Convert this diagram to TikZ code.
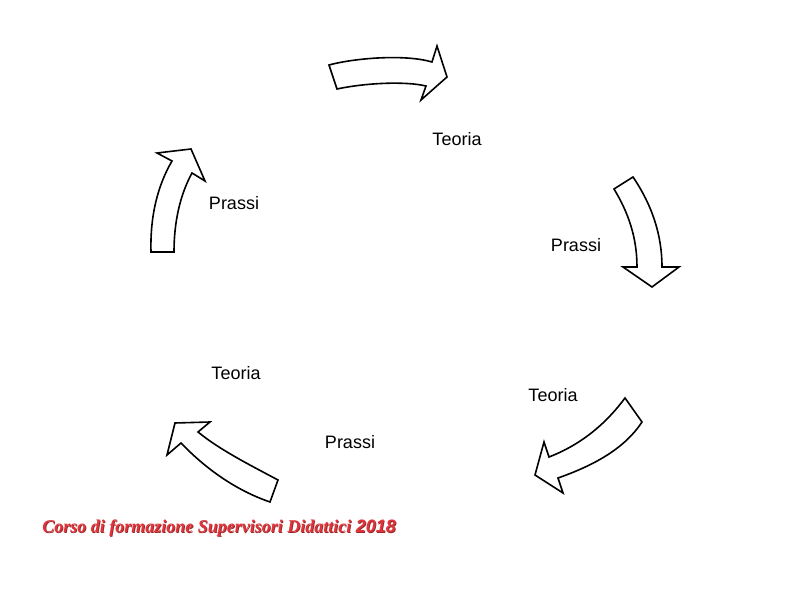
\documentclass[tikz,border=0pt]{standalone}
\usepackage{fontspec}
\setmainfont{Liberation Sans}
\newfontfamily\footfont{Liberation Serif}
\newfontfamily\yearfont{Liberation Sans}
\usepackage{tikz}
\usetikzlibrary{positioning, calc}
\definecolor{footred}{RGB}{224,52,60}
\definecolor{footshadow}{RGB}{150,40,40}
\tikzset{
    bigarrow/.style={
        draw=black,
        fill=white,
        line width=1.2pt,
        line join=miter
    },
    label/.style={
        font=\fontsize{13.5}{16}\selectfont,
        inner sep=0pt
    },
    foot/.style={
        font=\fontsize{13.5}{16}\selectfont\footfont\bfseries\itshape,
        inner sep=0pt
    }
}

\begin{document}
\begin{tikzpicture}[x=0.75pt,y=-0.75pt]

\useasboundingbox[fill=white] (0,0) rectangle (794,595);

%---------------- Top ----------------

\draw[bigarrow] (329,65) .. controls (355,58) and (405,54) .. (432,62)
    -- (437,46) -- (447,77) -- (421,100) -- (426,86)
    .. controls (405,81) and (365,83) .. (337,89) -- cycle;

\node[label] (t1) at (457,139) {Teoria};

%---------------- Right ----------------

\draw[bigarrow] (633,177) .. controls (652,205) and (662,235) .. (662,267)
    -- (679,267) -- (652,287) -- (623,267) -- (637,267)
    .. controls (637,237) and (628,212) .. (614,189) -- cycle;

\node[label] (p2) at (576,245) {Prassi};

%---------------- Bottom right ----------------

\draw[bigarrow] (625,398) .. controls (605,425) and (580,445) .. (549,457)
    -- (544,442) -- (535,475) -- (563,493) -- (558,478)
    .. controls (595,465) and (625,448) .. (642,422) -- cycle;

\node[label] (t3) at (553,395) {Teoria};

%---------------- Bottom left ----------------

\draw[bigarrow] (278,480) .. controls (250,465) and (220,450) .. (198,432)
    -- (210,422) -- (175,423) -- (167,455) -- (181,443)
    .. controls (205,468) and (235,490) .. (270,502) -- cycle;

\node[label] (p4) at (350,442) {Prassi};
\node[label] (t4) at (236,373) {Teoria};

%---------------- Left ----------------

\draw[bigarrow] (151,252) .. controls (150,215) and (158,185) .. (172,161)
    -- (157,153) -- (191,149) -- (205,181) -- (192,173)
    .. controls (180,195) and (174,222) .. (174,252) -- cycle;

\node[label] (p5) at (234,203) {Prassi};

%---------------- Footer ----------------

\node[foot, text=footshadow, anchor=west] (shadow) at (42.8,528.8)
    {Corso di formazione Supervisori Didattici {\yearfont 2018}};
\node[foot, text=footred, anchor=west] (footer) at (42,528)
    {Corso di formazione Supervisori Didattici {\yearfont 2018}};

\end{tikzpicture}
\end{document}
